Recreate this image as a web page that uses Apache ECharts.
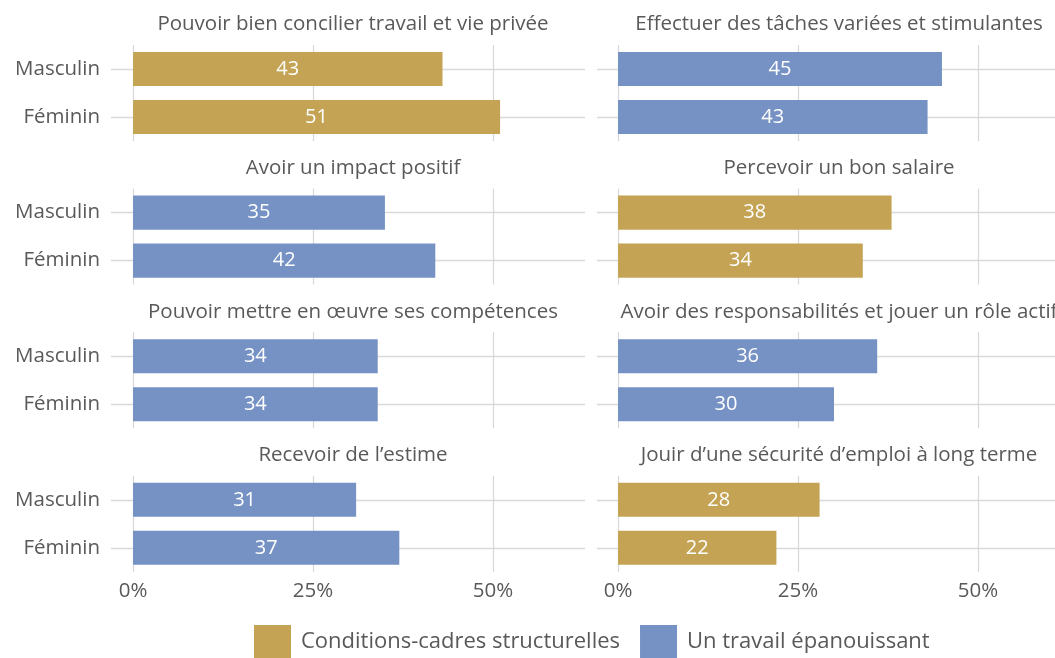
<!DOCTYPE html>
<html>
<head>
<meta charset="utf-8">
<script src="https://cdn.jsdelivr.net/npm/echarts@6/dist/echarts.min.js"></script>
<style>
  html, body { margin: 0; padding: 0; background: #fff; }
  #chart { width: 1055px; height: 658px; }
</style>
</head>
<body>
<div id="chart"></div>
<script>
  // chart data
  const categories = ['Masculin', 'Féminin'];
  const panelTitles = [
    'Pouvoir bien concilier travail et vie privée',
    'Effectuer des tâches variées et stimulantes',
    'Avoir un impact positif',
    'Percevoir un bon salaire',
    'Pouvoir mettre en œuvre ses compétences',
    'Avoir des responsabilités et jouer un rôle actif',
    'Recevoir de l’estime',
    'Jouir d’une sécurité d’emploi à long terme'
  ];
  const groupNames = ['Conditions-cadres structurelles', 'Un travail épanouissant'];
  // index into groupNames for each panel
  const panelGroup = [0, 1, 1, 0, 1, 1, 1, 0];
  const masculinValues = [43, 45, 35, 38, 34, 36, 31, 28];
  const femininValues = [51, 43, 42, 34, 34, 30, 37, 22];
  const xTicks = [0, 25, 50];

  const groupColors = ['#c4a454', '#7692c4'];
  const font = '"Open Sans", Roboto, sans-serif';
  const textColor = '#595959';
  const gridColor = '#d9d9d9';
  const fs = 20.5;

  const grids = [], xAxes = [], yAxes = [], series = [], titles = [];

  panelTitles.forEach((title, i) => {
    const row = Math.floor(i / 2);
    const col = i % 2;
    // right column runs past the page edge, so it is cut at 1055px
    const left = col === 0 ? 111 : 597;
    const width = col === 0 ? 474 : 458;
    const top = 45 + row * 143.6;

    grids.push({ left: left, top: top, width: width, height: 96 });

    titles.push({
      text: title,
      left: left + 237,
      top: top - 36,
      textAlign: 'center',
      textStyle: { fontFamily: font, fontSize: fs, fontWeight: 'normal', color: textColor }
    });

    xAxes.push({
      type: 'value',
      gridIndex: i,
      min: col === 0 ? -3.06 : -2.92,
      max: col === 0 ? 62.8 : 60.7,
      axisLine: { show: false },
      axisTick: { show: false },
      splitLine: { show: false },
      axisLabel: {
        show: row === 3,
        customValues: xTicks,
        formatter: '{value}%',
        margin: 9,
        fontFamily: font,
        fontSize: fs,
        color: textColor
      }
    });

    yAxes.push({
      type: 'category',
      gridIndex: i,
      data: categories,
      inverse: true,
      axisLine: { show: false },
      axisTick: { show: false },
      axisLabel: {
        show: col === 0,
        margin: 11,
        fontFamily: font,
        fontSize: fs,
        color: textColor
      }
    });

    const g = panelGroup[i];
    series.push({
      name: groupNames[g],
      type: 'bar',
      xAxisIndex: i,
      yAxisIndex: i,
      data: [masculinValues[i], femininValues[i]],
      barWidth: '71%',
      z: 3,
      itemStyle: { color: groupColors[g] },
      label: {
        show: true,
        position: 'inside',
        color: '#fff',
        fontFamily: font,
        fontSize: 20
      },
      emphasis: { disabled: true },
      markLine: {
        silent: true,
        z: 1,
        symbol: ['none', 'none'],
        label: { show: false },
        lineStyle: { color: gridColor, width: 1.3, type: 'solid' },
        data: xTicks.map(v => ({ xAxis: v })).concat(categories.map(c => ({ yAxis: c })))
      }
    });
  });

  const chart = echarts.init(document.getElementById('chart'));
  chart.setOption({
    animation: false,
    title: titles,
    grid: grids,
    xAxis: xAxes,
    yAxis: yAxes,
    legend: {
      data: groupNames,
      left: 254,
      top: 625,
      padding: 0,
      icon: 'rect',
      itemWidth: 37,
      itemHeight: 33,
      itemGap: 20,
      textStyle: { fontFamily: font, fontSize: 22, color: textColor, padding: [0, 0, 0, 5] }
    },
    series: series
  });
</script>
</body>
</html>
